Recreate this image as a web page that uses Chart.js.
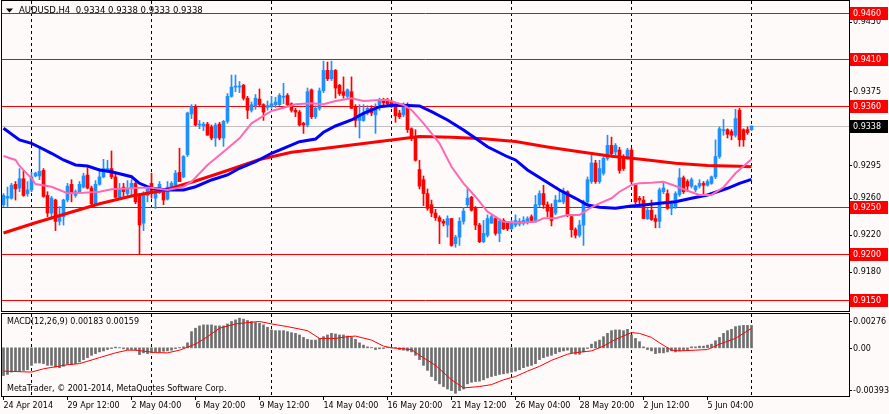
<!DOCTYPE html>
<html>
<head>
<meta charset="utf-8">
<script src="https://cdn.jsdelivr.net/npm/chart.js@4.4.1/dist/chart.umd.min.js"></script>
<style>
  body { margin: 0; background: #fffafa; width: 889px; height: 414px; overflow: hidden; position: relative; font-family: "DejaVu Sans", sans-serif; }
  canvas { position: absolute; left: 0; }
  #price-chart { top: 0; }
  #macd-chart { top: 312px; }
  .label { position: absolute; font-size: 8px; line-height: 10px; color: #000; white-space: pre; }
</style>
</head>
<body>
<canvas id="price-chart" width="889" height="312"></canvas>
<canvas id="macd-chart" width="889" height="102"></canvas>
<div class="label" style="left:19px; top:5px; font-size:8.5px;">AUDUSD,H4  0.9334 0.9338 0.9333 0.9338</div>
<div class="label" style="left:7px; top:317px;">MACD(12,26,9) 0.00183 0.00159</div>
<div class="label" style="left:7px; top:384px;">MetaTrader, © 2001-2014, MetaQuotes Software Corp.</div>
<script>
// H4 candles, bar 0 = 24 Apr 2014
var opens = [
  0.9253,0.9260,0.9260,0.9275,0.9271,0.9281,0.9265,0.9269,0.9284,0.9284,
  0.9290,0.9263,0.9244,0.9258,0.9235,0.9240,0.9258,0.9275,0.9263,0.9267,
  0.9272,0.9285,0.9271,0.9254,0.9275,0.9283,0.9289,0.9292,0.9283,0.9261,
  0.9272,0.9265,0.9271,0.9276,0.9263,0.9233,0.9263,0.9276,0.9260,0.9266,
  0.9268,0.9259,0.9271,0.9274,0.9288,0.9283,0.9307,0.9351,0.9359,0.9339,
  0.9338,0.9340,0.9337,0.9325,0.9340,0.9325,0.9343,0.9370,0.9380,0.9380,
  0.9382,0.9368,0.9355,0.9360,0.9367,0.9361,0.9358,0.9359,0.9361,0.9361,
  0.9369,0.9371,0.9362,0.9355,0.9353,0.9341,0.9339,0.9377,0.9348,0.9357,
  0.9376,0.9398,0.9389,0.9398,0.9382,0.9375,0.9370,0.9375,0.9359,0.9344,
  0.9344,0.9352,0.9357,0.9350,0.9361,0.9366,0.9366,0.9364,0.9361,0.9352,
  0.9350,0.9361,0.9335,0.9325,0.9291,0.9280,0.9265,0.9253,0.9244,0.9239,
  0.9235,0.9231,0.9238,0.9211,0.9218,0.9235,0.9253,0.9261,0.9249,0.9231,
  0.9213,0.9220,0.9233,0.9238,0.9222,0.9236,0.9233,0.9227,0.9231,0.9232,
  0.9233,0.9234,0.9240,0.9236,0.9253,0.9265,0.9253,0.9250,0.9244,0.9256,
  0.9256,0.9267,0.9240,0.9226,0.9220,0.9231,0.9256,0.9278,0.9298,0.9278,
  0.9287,0.9303,0.9317,0.9310,0.9312,0.9303,0.9303,0.9312,0.9274,0.9260,
  0.9258,0.9238,0.9247,0.9238,0.9235,0.9267,0.9265,0.9249,0.9251,0.9264,
  0.9282,0.9278,0.9273,0.9269,0.9273,0.9276,0.9274,0.9276,0.9283,0.9305,
  0.9333,0.9334,0.9332,0.9328,0.9355,0.9334,0.9334,0.9334
];
var highs = [
  0.9265,0.9272,0.9276,0.9278,0.9292,0.9290,0.9278,0.9288,0.9288,0.9316,
  0.9292,0.9267,0.9262,0.9259,0.9251,0.9259,0.9276,0.9280,0.9269,0.9278,
  0.9287,0.9293,0.9273,0.9279,0.9292,0.9302,0.9301,0.9311,0.9287,0.9276,
  0.9276,0.9279,0.9280,0.9278,0.9265,0.9267,0.9271,0.9287,0.9271,0.9278,
  0.9269,0.9278,0.9278,0.9290,0.9314,0.9306,0.9353,0.9361,0.9361,0.9344,
  0.9342,0.9342,0.9339,0.9341,0.9342,0.9344,0.9373,0.9393,0.9393,0.9386,
  0.9383,0.9370,0.9364,0.9372,0.9378,0.9362,0.9365,0.9370,0.9369,0.9373,
  0.9384,0.9373,0.9363,0.9357,0.9355,0.9342,0.9379,0.9378,0.9360,0.9379,
  0.9408,0.9407,0.9408,0.9399,0.9383,0.9391,0.9378,0.9391,0.9361,0.9361,
  0.9361,0.9360,0.9360,0.9362,0.9368,0.9368,0.9368,0.9366,0.9363,0.9355,
  0.9363,0.9363,0.9336,0.9334,0.9301,0.9284,0.9270,0.9258,0.9248,0.9241,
  0.9237,0.9241,0.9238,0.9220,0.9239,0.9250,0.9271,0.9262,0.9251,0.9233,
  0.9236,0.9242,0.9242,0.9240,0.9238,0.9238,0.9235,0.9236,0.9242,0.9238,
  0.9240,0.9240,0.9242,0.9263,0.9268,0.9274,0.9256,0.9254,0.9263,0.9268,
  0.9271,0.9268,0.9242,0.9228,0.9236,0.9258,0.9283,0.9308,0.9301,0.9301,
  0.9305,0.9328,0.9326,0.9319,0.9315,0.9307,0.9314,0.9314,0.9276,0.9262,
  0.9262,0.9249,0.9258,0.9242,0.9271,0.9278,0.9269,0.9256,0.9267,0.9292,
  0.9284,0.9280,0.9282,0.9274,0.9280,0.9278,0.9280,0.9284,0.9323,0.9337,
  0.9345,0.9335,0.9334,0.9356,0.9357,0.9335,0.9337,0.9338
];
var lows = [
  0.9251,0.9251,0.9259,0.9258,0.9267,0.9262,0.9262,0.9267,0.9283,0.9280,
  0.9261,0.9240,0.9240,0.9225,0.9231,0.9231,0.9256,0.9256,0.9261,0.9267,
  0.9271,0.9270,0.9253,0.9253,0.9274,0.9282,0.9288,0.9281,0.9260,0.9260,
  0.9262,0.9263,0.9263,0.9254,0.9199,0.9225,0.9256,0.9260,0.9249,0.9265,
  0.9253,0.9258,0.9269,0.9273,0.9278,0.9282,0.9305,0.9346,0.9338,0.9335,
  0.9333,0.9328,0.9323,0.9316,0.9323,0.9316,0.9341,0.9369,0.9375,0.9374,
  0.9366,0.9346,0.9353,0.9356,0.9359,0.9344,0.9355,0.9357,0.9358,0.9360,
  0.9362,0.9360,0.9353,0.9348,0.9338,0.9330,0.9337,0.9346,0.9346,0.9355,
  0.9374,0.9387,0.9387,0.9368,0.9371,0.9368,0.9368,0.9357,0.9337,0.9325,
  0.9343,0.9350,0.9349,0.9330,0.9355,0.9361,0.9360,0.9358,0.9342,0.9346,
  0.9348,0.9331,0.9322,0.9300,0.9270,0.9252,0.9247,0.9240,0.9236,0.9211,
  0.9230,0.9218,0.9208,0.9207,0.9209,0.9232,0.9251,0.9246,0.9226,0.9212,
  0.9212,0.9218,0.9233,0.9220,0.9213,0.9226,0.9225,0.9226,0.9229,0.9230,
  0.9231,0.9232,0.9234,0.9234,0.9251,0.9249,0.9240,0.9230,0.9242,0.9256,
  0.9254,0.9240,0.9218,0.9217,0.9218,0.9209,0.9254,0.9276,0.9276,0.9276,
  0.9285,0.9301,0.9306,0.9307,0.9287,0.9290,0.9302,0.9276,0.9254,0.9251,
  0.9238,0.9237,0.9236,0.9228,0.9228,0.9265,0.9248,0.9242,0.9249,0.9262,
  0.9265,0.9267,0.9271,0.9267,0.9271,0.9263,0.9273,0.9275,0.9281,0.9303,
  0.9328,0.9325,0.9323,0.9326,0.9316,0.9316,0.9329,0.9333
];
var closes = [
  0.9263,0.9262,0.9274,0.9270,0.9281,0.9263,0.9269,0.9283,0.9287,0.9289,
  0.9262,0.9244,0.9260,0.9235,0.9240,0.9258,0.9273,0.9266,0.9267,0.9275,
  0.9284,0.9271,0.9254,0.9275,0.9283,0.9292,0.9292,0.9283,0.9261,0.9270,
  0.9267,0.9270,0.9276,0.9256,0.9231,0.9263,0.9270,0.9267,0.9269,0.9275,
  0.9258,0.9272,0.9276,0.9287,0.9278,0.9305,0.9352,0.9359,0.9339,0.9340,
  0.9340,0.9328,0.9325,0.9339,0.9325,0.9343,0.9370,0.9380,0.9381,0.9381,
  0.9368,0.9355,0.9361,0.9368,0.9361,0.9353,0.9360,0.9362,0.9364,0.9371,
  0.9370,0.9361,0.9355,0.9353,0.9339,0.9339,0.9375,0.9348,0.9357,0.9376,
  0.9398,0.9389,0.9398,0.9379,0.9373,0.9371,0.9377,0.9357,0.9344,0.9350,
  0.9352,0.9357,0.9352,0.9357,0.9366,0.9363,0.9362,0.9360,0.9349,0.9348,
  0.9361,0.9334,0.9325,0.9301,0.9273,0.9265,0.9249,0.9244,0.9239,0.9235,
  0.9233,0.9238,0.9209,0.9218,0.9235,0.9246,0.9260,0.9247,0.9231,0.9213,
  0.9222,0.9238,0.9240,0.9222,0.9235,0.9227,0.9227,0.9233,0.9236,0.9235,
  0.9236,0.9238,0.9236,0.9253,0.9265,0.9253,0.9246,0.9236,0.9258,0.9258,
  0.9267,0.9242,0.9226,0.9220,0.9231,0.9256,0.9280,0.9298,0.9278,0.9292,
  0.9303,0.9317,0.9308,0.9317,0.9290,0.9292,0.9312,0.9278,0.9256,0.9258,
  0.9238,0.9247,0.9237,0.9235,0.9269,0.9271,0.9249,0.9254,0.9265,0.9282,
  0.9267,0.9273,0.9280,0.9273,0.9276,0.9274,0.9278,0.9283,0.9305,0.9335,
  0.9334,0.9329,0.9328,0.9346,0.9323,0.9323,0.9331,0.9338
];

// moving averages at these bars
var pinkBars = [0,3,4,7,8,12,16,20,24,27,32,34,37,41,45,47,51,55,59,62,67,70,73,77,80,83,87,90,94,96,100,
  102,105,109,112,115,118,121,125,129,133,135,138,141,144,147,149,152,154,157,159,162,165,168,171,174,177,180,183,187];
var pinkMA = [0.93056,0.93013,0.92948,0.92815,0.92753,0.92724,0.92653,0.92659,0.92670,0.92696,0.92707,0.92713,
  0.92713,0.92689,0.92724,0.92778,0.92959,0.93102,0.93247,0.93409,0.93542,0.93577,0.93614,0.93625,0.93614,
  0.93650,0.93679,0.93650,0.93660,0.93660,0.93607,0.93553,0.93409,0.93193,0.92940,0.92761,0.92616,0.92454,
  0.92346,0.92335,0.92346,0.92383,0.92383,0.92419,0.92419,0.92502,0.92545,0.92599,0.92670,0.92743,0.92761,
  0.92767,0.92778,0.92732,0.92681,0.92635,0.92635,0.92718,0.92869,0.93020];
var blueBars = [0,4,7,9,12,15,18,21,24,27,32,34,37,41,45,48,52,56,59,63,67,70,74,78,80,83,87,90,94,98,104,
  107,111,115,118,121,126,128,131,135,139,143,146,149,153,157,160,164,168,172,176,181,184,187];
var blueMA = [0.93355,0.93229,0.93193,0.93150,0.93085,0.93013,0.92959,0.92948,0.92905,0.92886,0.92832,0.92761,
  0.92707,0.92689,0.92689,0.92724,0.92797,0.92851,0.92923,0.92994,0.93085,0.93139,0.93210,0.93239,0.93312,
  0.93380,0.93445,0.93517,0.93588,0.93607,0.93596,0.93534,0.93445,0.93337,0.93247,0.93156,0.93048,0.93013,
  0.92905,0.92797,0.92689,0.92599,0.92527,0.92502,0.92491,0.92516,0.92527,0.92545,0.92562,0.92599,0.92635,
  0.92707,0.92761,0.92804];
var redBars = [0,8,16,24,32,40,48,56,64,72,80,88,96,104,112,120,128,136,144,152,160,168,176,184,187];
var redMA = [0.92224,0.92335,0.92437,0.92540,0.92624,0.92683,0.92786,0.92899,0.93018,0.93097,0.93137,0.93180,0.93223,
  0.93266,0.93259,0.93241,0.93212,0.93154,0.93102,0.93052,0.93018,0.92977,0.92952,0.92944,0.92941];

var levels = [0.9460, 0.9410, 0.9360, 0.9250, 0.9200, 0.9150];
var lastPrice = 0.9338;
var priceTicks = [0.9450, 0.9375, 0.9338, 0.9295, 0.9260, 0.9220, 0.9180, 0.9145];

// MACD(12,26,9)
var macdHist = [
  -0.00226,-0.00217,-0.00198,-0.00190,-0.00190,-0.00184,-0.00179,-0.00143,-0.00124,-0.00124,
  -0.00129,-0.00143,-0.00143,-0.00157,-0.00162,-0.00151,-0.00135,-0.00135,-0.00129,-0.00116,
  -0.00096,-0.00080,-0.00061,-0.00047,-0.00033,-0.00025,-0.00014,-0.00006,0.00006,0.00002,
  -0.00008,-0.00014,-0.00014,-0.00019,-0.00055,-0.00041,-0.00047,-0.00041,-0.00033,-0.00033,
  -0.00028,-0.00025,-0.00019,-0.00006,0.00003,0.00008,0.00041,0.00132,0.00160,0.00179,
  0.00187,0.00187,0.00187,0.00179,0.00179,0.00179,0.00195,0.00215,0.00228,0.00242,
  0.00234,0.00223,0.00215,0.00206,0.00201,0.00187,0.00168,0.00146,0.00140,0.00140,
  0.00140,0.00132,0.00124,0.00118,0.00105,0.00085,0.00069,0.00063,0.00063,0.00077,
  0.00091,0.00105,0.00118,0.00113,0.00105,0.00105,0.00096,0.00085,0.00069,0.00041,
  0.00022,0.00008,0.00003,-0.00014,-0.00008,-0.00006,0.00002,0.00002,0.00002,-0.00014,
  -0.00019,-0.00025,-0.00033,-0.00061,-0.00096,-0.00143,-0.00184,-0.00234,-0.00267,-0.00294,
  -0.00316,-0.00336,-0.00349,-0.00371,-0.00349,-0.00336,-0.00294,-0.00281,-0.00275,-0.00272,
  -0.00261,-0.00245,-0.00234,-0.00226,-0.00217,-0.00212,-0.00206,-0.00198,-0.00190,-0.00179,
  -0.00162,-0.00151,-0.00143,-0.00129,-0.00096,-0.00080,-0.00069,-0.00061,-0.00047,-0.00033,
  -0.00025,-0.00019,-0.00041,-0.00052,-0.00052,-0.00033,-0.00006,0.00030,0.00050,0.00063,
  0.00091,0.00118,0.00140,0.00146,0.00146,0.00140,0.00151,0.00105,0.00077,0.00050,
  0.00008,-0.00014,-0.00025,-0.00047,-0.00041,-0.00041,-0.00033,-0.00025,-0.00033,-0.00025,
  -0.00019,-0.00014,0.00008,0.00008,0.00014,0.00014,0.00022,0.00030,0.00058,0.00085,
  0.00118,0.00140,0.00151,0.00173,0.00179,0.00183,0.00183,0.00183
];
var signalBars = [0,7,10,16,19,24,28,31,33,38,41,44,48,51,54,58,61,64,67,71,76,79,83,86,88,92,95,97,
  102,104,108,112,115,119,122,125,128,131,134,137,141,143,147,150,153,157,159,162,164,167,169,173,176,179,183,187];
var signalLine = [-0.00190,-0.00198,-0.00171,-0.00138,-0.00129,-0.00080,-0.00041,-0.00019,-0.00019,-0.00039,
  -0.00041,-0.00019,0.00030,0.00091,0.00160,0.00195,0.00206,0.00215,0.00195,0.00173,0.00140,0.00077,0.00077,
  0.00091,0.00096,0.00063,0.00014,0.00000,-0.00014,-0.00061,-0.00143,-0.00261,-0.00327,-0.00316,-0.00300,
  -0.00261,-0.00234,-0.00190,-0.00151,-0.00102,-0.00052,-0.00039,-0.00025,0.00014,0.00069,0.00124,0.00118,
  0.00085,0.00041,-0.00019,-0.00025,-0.00019,-0.00014,0.00030,0.00077,0.00159];
var macdAxisValues = [0.00276, 0, -0.00393];
var macdAxisLabels = ['0.00276', '0.00', '-0.00393'];

var timeTickBars = [0,16,32,48,64,80,96,112,128,144,160,176];
var timeTickLabels = ['24 Apr 2014','29 Apr 12:00','2 May 04:00','6 May 20:00','9 May 12:00','14 May 04:00',
  '16 May 20:00','21 May 12:00','26 May 04:00','28 May 20:00','2 Jun 12:00','5 Jun 04:00'];
var dayLineBars = [7, 37, 67, 97, 127, 157, 187];

var barMin = -0.375;   // 4px per bar
var barMax = 211.375;

Chart.defaults.font.family = '"DejaVu Sans", sans-serif';
Chart.defaults.font.size = 8;
Chart.defaults.color = '#000000';

function points(xs, ys) {
  var out = [];
  for (var i = 0; i < xs.length; i++) {
    out.push({x: xs[i], y: ys[i]});
  }
  return out;
}

var wicks = [];
var bodies = [];
var candleColors = [];
for (var i = 0; i < closes.length; i++) {
  wicks.push({x: i, y: [lows[i], highs[i]]});
  bodies.push({x: i, y: [opens[i], closes[i]]});
  candleColors.push(closes[i] >= opens[i] ? '#1E90FF' : '#FF0000');
}

function drawDayLines(chart) {
  var ctx = chart.ctx, area = chart.chartArea, xs = chart.scales.x;
  ctx.save();
  ctx.strokeStyle = '#000000';
  ctx.lineWidth = 1;
  ctx.setLineDash([3, 3]);
  for (var i = 0; i < dayLineBars.length; i++) {
    var px = Math.floor(xs.getPixelForValue(dayLineBars[i])) + 0.5;
    ctx.beginPath();
    ctx.moveTo(px, area.top);
    ctx.lineTo(px, area.bottom);
    ctx.stroke();
  }
  ctx.restore();
}

function drawFrame(chart) {
  var ctx = chart.ctx, a = chart.chartArea;
  ctx.save();
  ctx.strokeStyle = '#000000';
  ctx.lineWidth = 1;
  ctx.strokeRect(a.left - 0.5, a.top - 0.5, a.right - a.left + 1, a.bottom - a.top + 1);
  ctx.restore();
}

function hLine(chart, value, color) {
  var ctx = chart.ctx, a = chart.chartArea;
  var py = Math.round(chart.scales.y.getPixelForValue(value)) + 0.5;
  ctx.strokeStyle = color;
  ctx.beginPath();
  ctx.moveTo(a.left, py);
  ctx.lineTo(a.right, py);
  ctx.stroke();
}

function priceBox(chart, value, bg) {
  var ctx = chart.ctx, a = chart.chartArea;
  var py = Math.round(chart.scales.y.getPixelForValue(value));
  ctx.fillStyle = bg;
  ctx.fillRect(a.right + 1, py - 6, 38, 13);
  ctx.fillStyle = '#FFFFFF';
  ctx.textBaseline = 'middle';
  ctx.textAlign = 'left';
  ctx.fillText(value.toFixed(4), a.right + 4, py + 0.5);
}

var priceDecor = {
  id: 'priceDecor',
  beforeDatasetsDraw: function (chart) {
    drawDayLines(chart);
    var ctx = chart.ctx;
    ctx.save();
    ctx.lineWidth = 1;
    hLine(chart, lastPrice, '#C0C0C0');
    for (var i = 0; i < levels.length; i++) {
      hLine(chart, levels[i], '#FF0000');
    }
    ctx.restore();
  },
  afterDraw: function (chart) {
    var ctx = chart.ctx;
    drawFrame(chart);
    ctx.save();
    ctx.font = '8px "DejaVu Sans", sans-serif';
    for (var i = 0; i < levels.length; i++) {
      priceBox(chart, levels[i], '#FF0000');
    }
    priceBox(chart, lastPrice, '#000000');
    // little menu triangle before the symbol name
    ctx.fillStyle = '#000000';
    ctx.beginPath();
    ctx.moveTo(6, 8.5);
    ctx.lineTo(13, 8.5);
    ctx.lineTo(9.5, 12.5);
    ctx.closePath();
    ctx.fill();
    ctx.restore();
  }
};

var macdDecor = {
  id: 'macdDecor',
  beforeDatasetsDraw: function (chart) {
    drawDayLines(chart);
  },
  afterDraw: function (chart) {
    var ctx = chart.ctx, a = chart.chartArea, ys = chart.scales.y;
    drawFrame(chart);
    ctx.save();
    ctx.font = '8px "DejaVu Sans", sans-serif';
    ctx.fillStyle = '#000000';
    ctx.strokeStyle = '#000000';
    ctx.textBaseline = 'middle';
    for (var i = 0; i < macdAxisValues.length; i++) {
      var py = ys.getPixelForValue(macdAxisValues[i]);
      py = Math.min(Math.max(py, a.top + 7), a.bottom - 6);
      py = Math.round(py) + 0.5;
      ctx.beginPath();
      ctx.moveTo(a.right, py);
      ctx.lineTo(a.right + 3, py);
      ctx.stroke();
      ctx.fillText(macdAxisLabels[i], a.right + 4, py);
    }
    ctx.restore();
  }
};

var priceChart = new Chart(document.getElementById('price-chart'), {
  type: 'bar',
  data: {
    datasets: [
      { type: 'line', data: points(pinkBars, pinkMA), borderColor: '#FF69B4', borderWidth: 2, pointRadius: 0, order: 1 },
      { type: 'line', data: points(blueBars, blueMA), borderColor: '#0000FF', borderWidth: 3, pointRadius: 0, order: 2 },
      { type: 'line', data: points(redBars, redMA), borderColor: '#FF0000', borderWidth: 3, pointRadius: 0, order: 3 },
      { data: bodies, backgroundColor: candleColors, barThickness: 3, minBarLength: 1, grouped: false, order: 4 },
      { data: wicks, backgroundColor: candleColors, barThickness: 1, grouped: false, order: 5 }
    ]
  },
  options: {
    responsive: false,
    animation: false,
    devicePixelRatio: 1,
    events: [],
    layout: { padding: { left: 2, top: 1, bottom: 1, right: 0 } },
    plugins: { legend: { display: false }, tooltip: { enabled: false } },
    scales: {
      x: { type: 'linear', min: barMin, max: barMax, offset: false, display: false, grid: { offset: false } },
      y: {
        position: 'right',
        min: 0.913819,
        max: 0.947296,
        afterFit: function (s) { s.width = 40; s.paddingTop = 0; s.paddingBottom = 0; },
        afterBuildTicks: function (s) {
          s.ticks = priceTicks.map(function (v) { return {value: v}; });
        },
        ticks: {
          autoSkip: false,
          padding: 1,
          callback: function (v) { return v.toFixed(4); }
        },
        grid: { drawOnChartArea: false, tickLength: 3, color: '#000000' },
        border: { display: false }
      }
    }
  },
  plugins: [priceDecor]
});

var macdChart = new Chart(document.getElementById('macd-chart'), {
  type: 'bar',
  data: {
    datasets: [
      { type: 'line', data: points(signalBars, signalLine), borderColor: '#FF0000', borderWidth: 1, pointRadius: 0, order: 1 },
      { data: points(macdHist.map(function (v, i) { return i; }), macdHist), backgroundColor: '#6E6E6E', barThickness: 2, grouped: false, order: 2 }
    ]
  },
  options: {
    responsive: false,
    animation: false,
    devicePixelRatio: 1,
    events: [],
    layout: { padding: { left: 2, top: 2, bottom: 0, right: 40 } },
    plugins: { legend: { display: false }, tooltip: { enabled: false } },
    scales: {
      x: {
        type: 'linear', min: barMin, max: barMax, offset: false,
        afterFit: function (s) { s.height = 18; s.paddingLeft = 0; s.paddingRight = 0; },
        afterBuildTicks: function (s) {
          s.ticks = timeTickBars.map(function (v) { return {value: v}; });
        },
        ticks: {
          autoSkip: false, maxRotation: 0, align: 'start', padding: 1,
          callback: function (v, idx) { return timeTickLabels[idx]; }
        },
        grid: { drawOnChartArea: false, tickLength: 4, color: '#000000', offset: false },
        border: { display: false }
      },
      y: { min: -0.00393, max: 0.00276, display: false }
    }
  },
  plugins: [macdDecor]
});
</script>
</body>
</html>
